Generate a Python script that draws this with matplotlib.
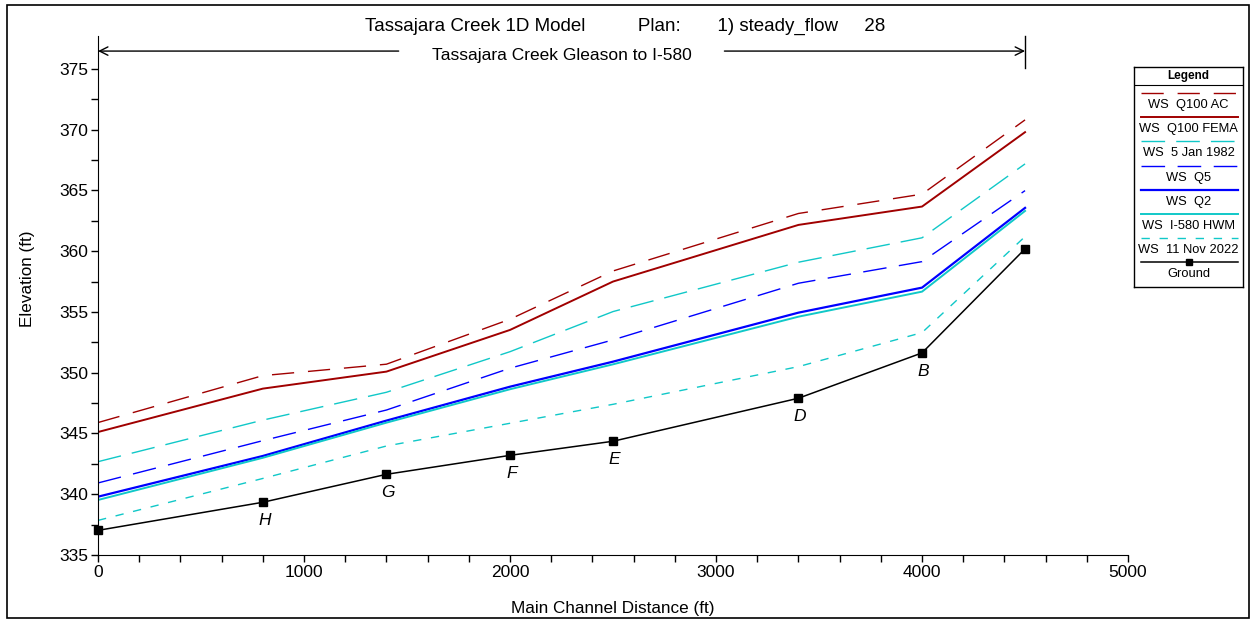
import numpy as np
import matplotlib.pyplot as plt
from matplotlib.patches import Rectangle

plt.rcParams['font.family'] = ['Liberation Sans', 'DejaVu Sans']
plt.rcParams['lines.scale_dashes'] = False

# main channel stations (ft) and elevations (ft)
station = [0, 800, 1400, 2000, 2500, 3400, 4000, 4500]
xs_names = ['', 'H', 'G', 'F', 'E', 'D', 'B', '']
ground = [337.03, 339.34, 341.64, 343.2, 344.36, 347.9, 351.63, 360.19]

ws_q100_ac = [345.9, 349.76, 350.7, 354.4, 358.37, 363.1, 364.69, 370.8]
ws_q100_fema = [345.12, 348.69, 350.09, 353.52, 357.5, 362.16, 363.67, 369.79]
ws_jan1982 = [342.68, 346.1, 348.39, 351.73, 355.03, 359.09, 361.1, 367.18]
ws_q5 = [340.93, 344.41, 346.93, 350.37, 352.7, 357.36, 359.14, 364.98]
ws_q2 = [339.8, 343.15, 346.06, 348.85, 350.91, 354.94, 357.0, 363.56]
ws_hwm = [339.53, 343.0, 345.89, 348.64, 350.69, 354.61, 356.67, 363.31]
ws_nov2022 = [337.85, 341.3, 343.97, 345.84, 347.4, 350.5, 353.3, 361.2]

profiles = [
    ('WS  Q100 AC', ws_q100_ac, dict(color='#A00000', lw=1.0, dashes=(16, 10))),
    ('WS  Q100 FEMA', ws_q100_fema, dict(color='#A00000', lw=1.4)),
    ('WS  5 Jan 1982', ws_jan1982, dict(color='#10C8C8', lw=1.0, dashes=(17, 8))),
    ('WS  Q5', ws_q5, dict(color='#0000FF', lw=1.0, dashes=(17, 9))),
    ('WS  Q2', ws_q2, dict(color='#0000FF', lw=1.6)),
    ('WS  I-580 HWM', ws_hwm, dict(color='#10C8C8', lw=1.4)),
    ('WS  11 Nov 2022', ws_nov2022, dict(color='#10C8C8', lw=1.0, dashes=(6, 7))),
]
ground_style = dict(color='black', lw=1.1, marker='s', ms=5.5, mfc='black', mec='black')

fig = plt.figure(figsize=(12.52, 6.20), dpi=100)
ax = fig.add_axes([0.0783, 0.1048, 0.8227, 0.8371])

for name, ws, style in profiles:
    ax.plot(station, ws, **style)
ax.plot(station, ground, clip_on=False, zorder=3, **ground_style)

# cross section labels under the ground points
for x, y, s in zip(station, ground, xs_names):
    if s:
        ax.annotate(s, (x, y), xytext=(1, -8), textcoords='offset points',
                    ha='center', va='top', fontsize=12.5, style='italic')

ax.set_xlim(0, 5000)
ax.set_ylim(335, 377.7)
ax.set_xticks(np.arange(0, 5001, 1000))
ax.set_xticks(np.arange(0, 5001, 200), minor=True)
ax.set_yticks(np.arange(335, 376, 5))
ax.set_yticks(np.arange(335, 376, 2.5), minor=True)
ax.tick_params(which='both', direction='out', length=5, width=1, labelsize=12.5, pad=2)
ax.spines['top'].set_visible(False)
ax.spines['right'].set_visible(False)
ax.set_xlabel('Main Channel Distance (ft)', fontsize=12.3, labelpad=15)
ax.set_ylabel('Elevation (ft)', fontsize=12.3)
ax.yaxis.set_label_coords(-0.061, 0.532)

# reach arrow with name
reach_y = 0.971
sub = ax.text(2250, 0.963, 'Tassajara Creek Gleason to I-580', transform=ax.get_xaxis_transform(),
              ha='center', va='center', fontsize=12.5)
fig.canvas.draw()
bb = sub.get_window_extent()
inv = ax.transData.inverted()
gap_l = inv.transform((bb.x0 - 33, 0))[0]
gap_r = inv.transform((bb.x1 + 33, 0))[0]
arrow = dict(arrowstyle='->,head_length=0.6,head_width=0.3', color='black', lw=1, shrinkA=0, shrinkB=0)
ax.annotate('', xy=(station[0], reach_y), xytext=(gap_l, reach_y),
            xycoords=ax.get_xaxis_transform(), arrowprops=arrow)
ax.annotate('', xy=(station[-1], reach_y), xytext=(gap_r, reach_y),
            xycoords=ax.get_xaxis_transform(), arrowprops=arrow)
ax.plot([station[-1], station[-1]], [0.938, 1.0], color='black', lw=1,
        transform=ax.get_xaxis_transform(), clip_on=False)

fig.text(0.4995, 0.958, 'Tassajara Creek 1D Model          Plan:       1) steady_flow     28',
         ha='center', va='center', fontsize=13.5)

# legend box
lax = fig.add_axes([0.9058, 0.5371, 0.0871, 0.3548])
lax.set_xlim(0, 1)
lax.set_ylim(220, 0)
lax.set_xticks([])
lax.set_yticks([])
for sp in lax.spines.values():
    sp.set_linewidth(1)
lax.text(0.5, 9, 'Legend', ha='center', va='center', fontsize=8.5, fontweight='bold')
lax.plot([0, 1], [18, 18], color='black', lw=0.8)
entries = [(name, style) for name, ws, style in profiles] + [('Ground', ground_style)]
for i, (name, style) in enumerate(entries):
    ly = 26 + 24.2 * i
    st = dict(style)
    st.pop('marker', None)
    lax.plot([0.06, 0.955], [ly, ly], **st)
    if name == 'Ground':
        lax.plot([0.5], [ly], marker='s', ms=5, color='black', ls='none')
    lax.text(0.5, ly + 12, name, ha='center', va='center', fontsize=9.3)

# outer frame
fig.patches.append(Rectangle((0.0056, 0.003), 0.992, 0.9887, transform=fig.transFigure,
                             fill=False, ec='black', lw=1.2))

fig.savefig('out.png', dpi=100)
